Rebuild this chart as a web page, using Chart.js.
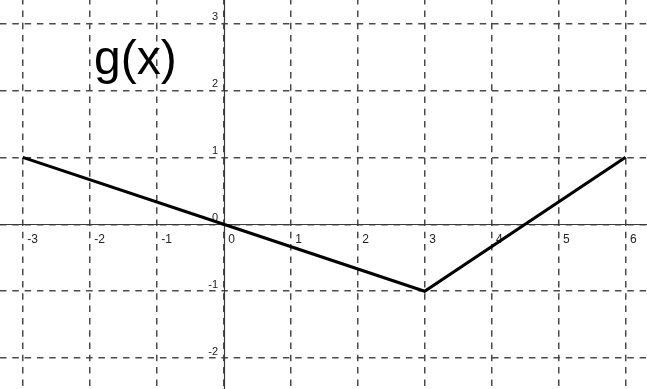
<!DOCTYPE html>
<html>
<head>
<meta charset="utf-8">
<script src="https://cdn.jsdelivr.net/npm/chart.js@4/dist/chart.umd.min.js"></script>
<style>
  html, body { margin: 0; padding: 0; background: #fff; }
  #graph { display: block; }
</style>
</head>
<body>
<canvas id="graph" width="647" height="389"></canvas>
<script>
// g(x) corner points
const xValues = [-3, 0, 3, 6];
const yValues = [1, 0, -1, 1];

// tick labels along the axes
const xTicks = [-3, -2, -1, 0, 1, 2, 3, 4, 5, 6];
const yTicks = [-2, -1, 0, 1, 2, 3];

const xMin = -3.34, xMax = 6.32;
const yMin = -2.46, yMax = 3.35;

(function(){
    let points = xValues.map(function(x, i){ return {x: x, y: yValues[i]}; });

    // draws the solid axes, their numbers and the g(x) label
    let axesPlugin = {
        id: 'axesPlugin',
        beforeDatasetsDraw: function(chart){
            let ctx = chart.ctx;
            let xs = chart.scales.x;
            let ys = chart.scales.y;
            let x0 = Math.round(xs.getPixelForValue(0)) + 0.5;
            let y0 = Math.round(ys.getPixelForValue(0)) + 0.5;

            ctx.save();
            ctx.strokeStyle = '#3a3a3a';
            ctx.lineWidth = 1.2;
            ctx.beginPath();
            ctx.moveTo(0, y0);
            ctx.lineTo(chart.width, y0);
            ctx.moveTo(x0, 0);
            ctx.lineTo(x0, chart.height);
            ctx.stroke();

            ctx.fillStyle = '#222';
            ctx.font = '12px "Liberation Sans", Arial, sans-serif';
            ctx.textAlign = 'left';
            ctx.textBaseline = 'alphabetic';
            xTicks.forEach(function(v){
                ctx.fillText(String(v), xs.getPixelForValue(v) + 4.5, y0 + 18);
            });

            ctx.font = '11px "Liberation Sans", Arial, sans-serif';
            ctx.textAlign = 'right';
            yTicks.forEach(function(v){
                ctx.fillText(String(v), x0 - 6.5, ys.getPixelForValue(v) - 3.5);
            });

            ctx.fillStyle = '#000';
            ctx.textAlign = 'left';
            ctx.font = '48px "Liberation Sans", Arial, sans-serif';
            ctx.fillText('g(x)', 94, 73.5);
            ctx.restore();
        }
    };

    let gridOpts = {
        color: '#4a4a4a',
        lineWidth: 1.5,
        drawTicks: false
    };

    let ctx = document.getElementById('graph').getContext('2d');
    new Chart(ctx, {
        type: 'scatter',
        data: {
            datasets: [{
                data: points,
                showLine: true,
                borderColor: '#000',
                borderWidth: 3,
                pointRadius: 0,
                tension: 0
            }]
        },
        options: {
            responsive: false,
            animation: false,
            layout: { padding: 0 },
            plugins: {
                legend: { display: false },
                tooltip: { enabled: false }
            },
            scales: {
                x: {
                    type: 'linear',
                    min: xMin,
                    max: xMax,
                    grid: gridOpts,
                    border: { display: false, dash: [6.5, 5.8], dashOffset: 1.9 },
                    ticks: { display: false, stepSize: 1, includeBounds: false },
                    afterFit: function(s){ s.height = 0; }
                },
                y: {
                    type: 'linear',
                    min: yMin,
                    max: yMax,
                    grid: gridOpts,
                    border: { display: false, dash: [6.5, 5.8], dashOffset: 0 },
                    ticks: { display: false, stepSize: 1, includeBounds: false },
                    afterFit: function(s){ s.width = 0; }
                }
            }
        },
        plugins: [axesPlugin]
    });
})();
</script>
</body>
</html>
